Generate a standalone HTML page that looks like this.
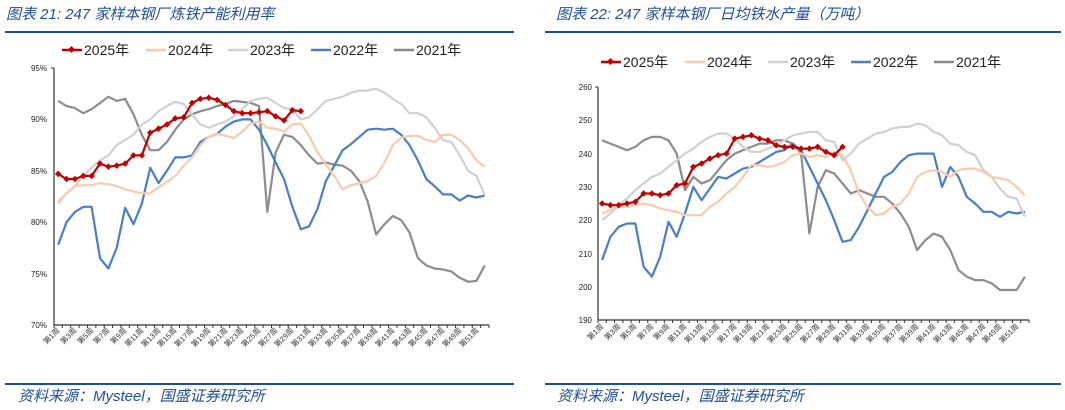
<!DOCTYPE html>
<html><head><meta charset="utf-8"><style>
body{margin:0;width:1065px;height:410px;background:#fff;overflow:hidden;font-family:"Liberation Sans","Noto Sans CJK SC",sans-serif}
svg{position:absolute;left:0;top:0}
.t{font-family:"Liberation Sans","Noto Sans CJK SC",sans-serif;font-style:italic;fill:#1f4e9a;font-size:15px}
.lg{font-size:14px;fill:#222}
.ax{font-size:8px;fill:#222}
.xl{font-size:7.5px;fill:#333}
</style></head><body>
<svg id="s" width="1065" height="410" xmlns="http://www.w3.org/2000/svg">
<text class="t" x="6" y="19">图表 21:  247 家样本钢厂炼铁产能利用率</text>
<text class="t" x="556" y="19">图表 22:  247 家样本钢厂日均铁水产量（万吨）</text>
<line x1="5" y1="32" x2="514" y2="32" stroke="#1f4e9a" stroke-width="2"/>
<line x1="545" y1="32" x2="1061" y2="32" stroke="#1f4e9a" stroke-width="2"/>
<line x1="5" y1="384" x2="514" y2="384" stroke="#1f4e9a" stroke-width="2"/>
<line x1="545" y1="384" x2="1061" y2="384" stroke="#1f4e9a" stroke-width="2"/>
<text class="t" x="18" y="401">资料来源：Mysteel，国盛证券研究所</text>
<text class="t" x="557" y="401">资料来源：Mysteel，国盛证券研究所</text>
<g class="lg">
<line x1="62" y1="50" x2="82" y2="50" stroke="#c00000" stroke-width="2.5"/><rect x="69" y="47" width="5" height="5" fill="#c00000" transform="rotate(45 71.5 49.5)"/><text x="84" y="55">2025年</text>
<line x1="146" y1="50" x2="166" y2="50" stroke="#f8cbad" stroke-width="2.5"/><text x="168" y="55">2024年</text>
<line x1="228" y1="50" x2="248" y2="50" stroke="#d0d0d0" stroke-width="2.5"/><text x="250" y="55">2023年</text>
<line x1="311" y1="50" x2="331" y2="50" stroke="#4a7ec7" stroke-width="2.5"/><text x="333" y="55">2022年</text>
<line x1="394" y1="50" x2="414" y2="50" stroke="#8c8c8c" stroke-width="2.5"/><text x="416" y="55">2021年</text>
<line x1="601" y1="62" x2="621" y2="62" stroke="#c00000" stroke-width="2.5"/><rect x="608" y="59" width="5" height="5" fill="#c00000" transform="rotate(45 610.5 61.5)"/><text x="623" y="67">2025年</text>
<line x1="685" y1="62" x2="705" y2="62" stroke="#f8cbad" stroke-width="2.5"/><text x="707" y="67">2024年</text>
<line x1="768" y1="62" x2="788" y2="62" stroke="#d0d0d0" stroke-width="2.5"/><text x="790" y="67">2023年</text>
<line x1="851" y1="62" x2="871" y2="62" stroke="#4a7ec7" stroke-width="2.5"/><text x="873" y="67">2022年</text>
<line x1="934" y1="62" x2="954" y2="62" stroke="#8c8c8c" stroke-width="2.5"/><text x="956" y="67">2021年</text>
</g>
<g class="ax" text-anchor="end">
<text x="47" y="71">95%</text><text x="47" y="122">90%</text><text x="47" y="174">85%</text><text x="47" y="225">80%</text><text x="47" y="277">75%</text><text x="47" y="328">70%</text>
<text x="592" y="90">260</text><text x="592" y="123">250</text><text x="592" y="157">240</text><text x="592" y="190">230</text><text x="592" y="223">220</text><text x="592" y="257">210</text><text x="592" y="290">200</text><text x="592" y="323">190</text>
</g>
<g class="xl" text-anchor="end">
<text transform="translate(60,331) rotate(-45)">第1周</text><text transform="translate(77,331) rotate(-45)">第3周</text><text transform="translate(94,331) rotate(-45)">第5周</text><text transform="translate(110,331) rotate(-45)">第7周</text><text transform="translate(127,331) rotate(-45)">第9周</text><text transform="translate(144,331) rotate(-45)">第11周</text><text transform="translate(161,331) rotate(-45)">第13周</text><text transform="translate(177,331) rotate(-45)">第15周</text><text transform="translate(194,331) rotate(-45)">第17周</text><text transform="translate(211,331) rotate(-45)">第19周</text><text transform="translate(228,331) rotate(-45)">第21周</text><text transform="translate(244,331) rotate(-45)">第23周</text><text transform="translate(261,331) rotate(-45)">第25周</text><text transform="translate(278,331) rotate(-45)">第27周</text><text transform="translate(294,331) rotate(-45)">第29周</text><text transform="translate(311,331) rotate(-45)">第31周</text><text transform="translate(328,331) rotate(-45)">第33周</text><text transform="translate(345,331) rotate(-45)">第35周</text><text transform="translate(361,331) rotate(-45)">第37周</text><text transform="translate(378,331) rotate(-45)">第39周</text><text transform="translate(395,331) rotate(-45)">第41周</text><text transform="translate(412,331) rotate(-45)">第43周</text><text transform="translate(428,331) rotate(-45)">第45周</text><text transform="translate(445,331) rotate(-45)">第47周</text><text transform="translate(462,331) rotate(-45)">第49周</text><text transform="translate(479,331) rotate(-45)">第51周</text>
</g>
<g class="xl" text-anchor="end">
<text transform="translate(604,327) rotate(-45)">第1周</text><text transform="translate(621,327) rotate(-45)">第3周</text><text transform="translate(637,327) rotate(-45)">第5周</text><text transform="translate(654,327) rotate(-45)">第7周</text><text transform="translate(670,327) rotate(-45)">第9周</text><text transform="translate(687,327) rotate(-45)">第11周</text><text transform="translate(704,327) rotate(-45)">第13周</text><text transform="translate(720,327) rotate(-45)">第15周</text><text transform="translate(737,327) rotate(-45)">第17周</text><text transform="translate(753,327) rotate(-45)">第19周</text><text transform="translate(770,327) rotate(-45)">第21周</text><text transform="translate(787,327) rotate(-45)">第23周</text><text transform="translate(803,327) rotate(-45)">第25周</text><text transform="translate(820,327) rotate(-45)">第27周</text><text transform="translate(836,327) rotate(-45)">第29周</text><text transform="translate(853,327) rotate(-45)">第31周</text><text transform="translate(870,327) rotate(-45)">第33周</text><text transform="translate(886,327) rotate(-45)">第35周</text><text transform="translate(903,327) rotate(-45)">第37周</text><text transform="translate(919,327) rotate(-45)">第39周</text><text transform="translate(936,327) rotate(-45)">第41周</text><text transform="translate(953,327) rotate(-45)">第43周</text><text transform="translate(969,327) rotate(-45)">第45周</text><text transform="translate(986,327) rotate(-45)">第47周</text><text transform="translate(1002,327) rotate(-45)">第49周</text><text transform="translate(1019,327) rotate(-45)">第51周</text>
</g>
</svg>
<script>
var s=document.getElementById('s'),NS='http://www.w3.org/2000/svg';
function el(t,a){var e=document.createElementNS(NS,t);for(var k in a)e.setAttribute(k,a[k]);s.appendChild(e);return e;}
function chart(x0,x1,yt,yb,vmax,vmin,series){
 var w=(x1-x0)/52;
 function Y(v){return yt+(vmax-v)*(yb-yt)/(vmax-vmin);}
 el('line',{x1:x0,y1:yt,x2:x0,y2:yb,stroke:'#333','stroke-width':1.2});
 el('line',{x1:x0,y1:yb,x2:x1,y2:yb,stroke:'#333','stroke-width':1.2});
 el('line',{x1:x0-3,y1:yt,x2:x0,y2:yt,stroke:'#333'});
 for(var i=0;i<=52;i++){var x=x0+w*i;el('line',{x1:x,y1:yb,x2:x,y2:yb+3,stroke:'#333'});}
 series.forEach(function(sr){
  var p=sr.d.map(function(v,i){return (x0+w*(i+0.5)).toFixed(1)+','+Y(v).toFixed(1);}).join(' ');
  el('polyline',{points:p,fill:'none',stroke:sr.c,'stroke-width':2.2,'stroke-linejoin':'round'});
  if(sr.m)sr.d.forEach(function(v,i){var x=x0+w*(i+0.5),y=Y(v);el('rect',{x:x-2.3,y:y-2.3,width:4.6,height:4.6,fill:sr.c,transform:'rotate(45 '+x+' '+y+')'});});
 });
}
chart(54,489,68,325,95,70,[
{c:'#8c8c8c',d:[91.8,91.3,91.1,90.6,91.0,91.6,92.2,91.8,92.0,90.5,88.5,87,87,87.8,89,90,90.5,90.8,91,91.3,91.5,91.8,91.7,91.6,91.3,81,86.8,88.5,88.3,87.5,86.5,85.7,85.8,85.6,85.5,85,84,82,78.8,79.8,80.6,80.2,79,76.5,75.8,75.5,75.4,75.2,74.6,74.2,74.3,75.8]},
{c:'#4a7ec7',d:[77.8,80,81,81.5,81.5,76.5,75.5,77.5,81.4,79.8,81.8,85.3,83.8,85,86.3,86.3,86.5,87.8,88.3,88.6,89.3,89.8,90,90,89,87.5,85.8,84.2,81.5,79.3,79.6,81.3,84,85.5,87,87.6,88.3,89,89.1,89,89.1,88.5,87.5,86,84.2,83.5,82.7,82.7,82.1,82.6,82.4,82.6]},
{c:'#d0d0d0',d:[82,82.8,83.5,84.5,85.3,86,86.5,87.5,88,88.5,89.5,90,90.8,91.3,91.7,91.5,90.5,89.5,89.2,89.5,89.8,90.3,91,91.8,92,92.1,91.6,91.1,91,90,90.2,91,91.8,92,92.2,92.6,92.8,92.8,93,92.6,92,91.5,90.6,90.6,90.2,89.2,88,87.8,86.5,85,84.5,82.6]},
{c:'#f8cbad',d:[81.8,82.8,83.5,83.6,83.6,83.8,83.7,83.5,83.2,83,82.8,82.8,83.4,83.9,84.5,85.5,86.3,87.5,88.3,88.6,88.4,88.2,88.8,89.6,89.8,89.2,89.1,88.8,89.5,89.6,88.4,86.8,85.6,84.5,83.2,83.6,83.8,84,84.5,85.8,87.5,88.2,88.4,88.4,88,87.8,88.5,88.5,88,87.2,86,85.4]},
{c:'#c00000',m:1,d:[84.7,84.2,84.2,84.5,84.5,85.7,85.4,85.5,85.7,86.5,86.5,88.7,89.1,89.5,90.1,90.2,91.6,92,92.1,91.9,91.4,90.8,90.6,90.6,90.7,90.8,90.3,89.9,90.9,90.8]}
]);
chart(598,1029,87,320,260,190,[
{c:'#8c8c8c',d:[244,243,242,241,242,244,245,245,244,240,229,233,231,232,235,238,240,241,242,243,243,244,244,243,240,216,230,235,234,231,228,229,228,227,227,225,222,218,211,214,216,215,211,205,203,202,202,201,199,199,199,203]},
{c:'#4a7ec7',d:[208,215,218,219,219,206,203,209,219.5,215,222,230,226,229.5,233,232.5,234,235.5,236,237.5,239,240.5,241,243,241,236,231,226,220,213.5,214,218,223,228,233,234.5,237.5,239.5,240,240,240,230,236,233,227,225,222.5,222.5,221,222.5,222,222.5]},
{c:'#d0d0d0',d:[220,222,224.5,226.5,229,231,233,234,236,238,240,241.5,243.5,245,246,246,244.5,242,240.5,240.5,241.5,242.5,244,245.5,246,246.5,246.5,244,243.5,238,240,243,244.5,246,246.5,247.5,248,248,249,248.5,246.5,245.5,243,242.5,240.5,239.5,235,233,229.5,227,226.5,221]},
{c:'#f8cbad',d:[222,223,224,224,224.5,225,224.5,223.5,223,222.5,221.5,221.5,221.5,224,225.5,228,230,233,236.5,236.5,236,236.5,237.5,239.5,240,239,239.5,239,240.5,239.5,235,228,224,221.5,222,224,225,228,233,234.5,235,234.5,233,235,235.5,235.5,234.5,233,232.5,232,230,227.5]},
{c:'#c00000',m:1,d:[225,224.5,224.5,225,225.5,228,228,227.5,228,230.5,231,236,237,238.5,239.5,240,244.5,245,245.5,244.5,244,242.5,242,242,241.5,241.5,242,240.5,239.5,242]}
]);
</script>
</body></html>
